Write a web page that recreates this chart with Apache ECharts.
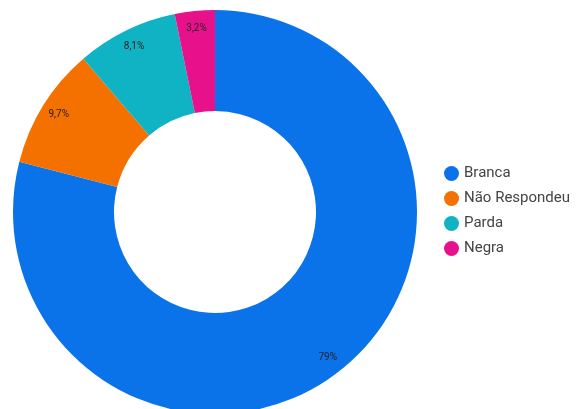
<!DOCTYPE html>
<html>
<head>
<meta charset="utf-8">
<style>
  html, body { margin: 0; padding: 0; background: #fff; }
  #chart { width: 577px; height: 409px; }
</style>
<script src="https://cdn.jsdelivr.net/npm/echarts@6/dist/echarts.min.js"></script>
</head>
<body>
<div id="chart"></div>
<script>
var categories = ['Branca', 'Não Respondeu', 'Parda', 'Negra']
var values = [79, 9.7, 8.1, 3.2]
var colors = ['#0b73ea', '#f47100', '#0fb3c4', '#e7118c']

var pieData = categories.map(function (name, i) {
  return { name: name, value: values[i] }
})

var chart = echarts.init(document.getElementById('chart'))
chart.setOption({
  backgroundColor: '#fff',
  color: colors,
  animation: false,
  legend: {
    orient: 'vertical',
    left: 439,
    top: 161,
    itemWidth: 15,
    itemHeight: 15,
    itemGap: 10,
    icon: 'circle',
    textStyle: {
      fontFamily: 'Roboto',
      fontSize: 15,
      color: '#444'
    },
    data: categories
  },
  series: [{
    name: 'cor',
    type: 'pie',
    center: [215, 212],
    radius: [101, 202],
    startAngle: 90,
    clockwise: true,
    label: { show: false },
    labelLine: { show: false },
    data: pieData
  }, {
    // only carries the labels, placed near the outer edge
    name: 'rotulos',
    type: 'pie',
    center: [215, 212],
    radius: [160, 202],
    startAngle: 90,
    clockwise: true,
    silent: true,
    itemStyle: { color: 'rgba(0,0,0,0)' },
    label: {
      show: true,
      position: 'inside',
      fontFamily: 'Roboto',
      fontSize: 10,
      color: '#222',
      formatter: function (p) {
        return String(p.value).replace('.', ',') + '%'
      }
    },
    labelLine: { show: false },
    data: pieData
  }]
})
</script>
</body>
</html>
